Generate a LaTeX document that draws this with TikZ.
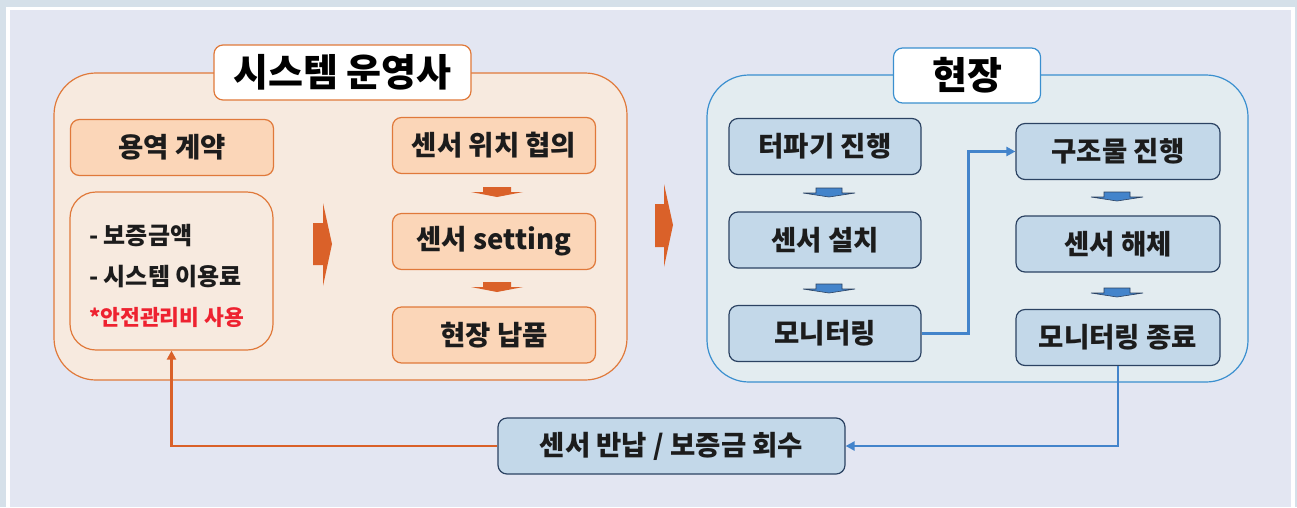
\documentclass[tikz,border=0pt]{standalone}
\usepackage{fontspec}
\setmainfont{Noto Sans CJK KR}
\usetikzlibrary{arrows.meta}

\definecolor{framestripe}{HTML}{D5E0E9}
\definecolor{backlavender}{HTML}{E3E6F2}
\definecolor{panelorange}{HTML}{F7EADF}
\definecolor{lineorange}{HTML}{E0793A}
\definecolor{boxorange}{HTML}{FBD6B8}
\definecolor{arroworange}{HTML}{DA6129}
\definecolor{panelblue}{HTML}{E3ECF0}
\definecolor{lineblue}{HTML}{3A8FCF}
\definecolor{boxblue}{HTML}{C3D8E9}
\definecolor{edgeblue}{HTML}{2B4262}
\definecolor{arrowblue}{HTML}{4384CB}
\definecolor{notered}{HTML}{EE2230}
\definecolor{inktext}{HTML}{1C1C1C}

\tikzset{
  op-box/.style={draw=lineorange, fill=boxorange, line width=1.2pt, rounded corners=9pt,
    minimum width=203pt, minimum height=56pt, inner sep=0pt, text=inktext,
    font=\bfseries\fontsize{27.5}{30}\selectfont},
  site-box/.style={draw=edgeblue, fill=boxblue, line width=1.2pt, rounded corners=9pt,
    minimum height=56pt, inner sep=0pt, text=inktext,
    font=\bfseries\fontsize{27.5}{30}\selectfont},
  title-box/.style={fill=white, line width=1.2pt, rounded corners=9pt,
    minimum height=55pt, inner sep=0pt, text=black,
    font=\bfseries\fontsize{38}{42}\selectfont},
  list-item/.style={anchor=west, inner sep=0pt, text=inktext,
    font=\bfseries\fontsize{24}{28}\selectfont},
  op-link/.style={draw=arroworange, line width=2.6pt, -{Triangle[length=9pt,width=9pt]}},
  site-link/.style={draw=arrowblue, line width=2.6pt, -{Triangle[length=9pt,width=9pt]}}
}

\begin{document}
\begin{tikzpicture}[x=1pt, y=-1pt]
% Background and frame
\fill[framestripe] (0,0) rectangle (1297,507);
\fill[white] (6,7) rectangle (1295,507);
\fill[backlavender] (10,10) rectangle (1291,507);
\useasboundingbox (0,0) rectangle (1297,507);

% Panels
\draw[lineorange, fill=panelorange, line width=1.2pt, rounded corners=42pt] (54,73) rectangle (627,380);
\draw[lineblue, fill=panelblue, line width=1.2pt, rounded corners=42pt] (707,75) rectangle (1248,382);
\node[title-box, draw=lineorange, minimum width=257pt] (operator) at (342.5,72.5) {시스템 운영사};
\node[title-box, draw=lineblue, minimum width=147pt] (site) at (967,75.5) {현장};

% Operator side
\node[op-box] (contract) at (172,147.5) {용역 계약};
\node[draw=lineorange, fill=panelorange, line width=1.2pt, rounded corners=26pt,
  minimum width=203pt, minimum height=158pt] (terms) at (171.5,271) {};
\node[list-item] (deposit) at (89,236) {- 보증금액};
\node[list-item] (fee) at (89,277) {- 시스템 이용료};
\node[list-item, text=notered, font=\bfseries\fontsize{21.5}{25}\selectfont] (safety) at (89,317) {*안전관리비 사용};
\node[op-box] (position) at (494,145.5) {센서 위치 협의};
\node[op-box] (setting) at (494,241.5) {센서 setting};
\node[op-box] (delivery) at (494,335) {현장 납품};

% Site side
\node[site-box, minimum width=192pt] (excavation) at (825,146.5) {터파기 진행};
\node[site-box, minimum width=192pt] (install) at (825,240) {센서 설치};
\node[site-box, minimum width=192pt] (monitor) at (825,333.5) {모니터링};
\node[site-box, minimum width=204pt] (structure) at (1118,151.5) {구조물 진행};
\node[site-box, minimum width=204pt] (removal) at (1118,244) {센서 해체};
\node[site-box, minimum width=204pt] (monitor-end) at (1118,337.5) {모니터링 종료};
\node[site-box, minimum width=347pt] (return) at (671.5,446) {센서 반납 / 보증금 회수};

% Big arrows between stages
\fill[arroworange] (313,223) -- (323,223) -- (323,203) -- (332,244) -- (323,286) -- (323,265) -- (313,265) -- cycle;
\fill[arroworange] (655,204) -- (664,204) -- (664,184) -- (673,225) -- (664,267) -- (664,247) -- (655,247) -- cycle;

% Small step arrows
\foreach \cx/\ty in {497/187, 497/282}
  \fill[arroworange] (\cx-14,\ty) -- (\cx+14,\ty) -- (\cx+14,\ty+5) -- (\cx+26,\ty+5) -- (\cx,\ty+10) -- (\cx-26,\ty+5) -- (\cx-14,\ty+5) -- cycle;
\foreach \cx/\ty in {829/188, 829/284, 1117/192, 1117/288}
  \filldraw[fill=arrowblue, draw=edgeblue, line width=0.6pt] (\cx-13,\ty) -- (\cx+13,\ty) -- (\cx+13,\ty+5) -- (\cx+26,\ty+5) -- (\cx,\ty+9) -- (\cx-26,\ty+5) -- (\cx-13,\ty+5) -- cycle;

% Connectors
\draw[site-link] (monitor.east) -- ++(47,0) |- (structure.west);
\draw[site-link] (monitor-end.south) |- (return.east);
\draw[op-link] (return.west) -| (terms.south);
\end{tikzpicture}
\end{document}
